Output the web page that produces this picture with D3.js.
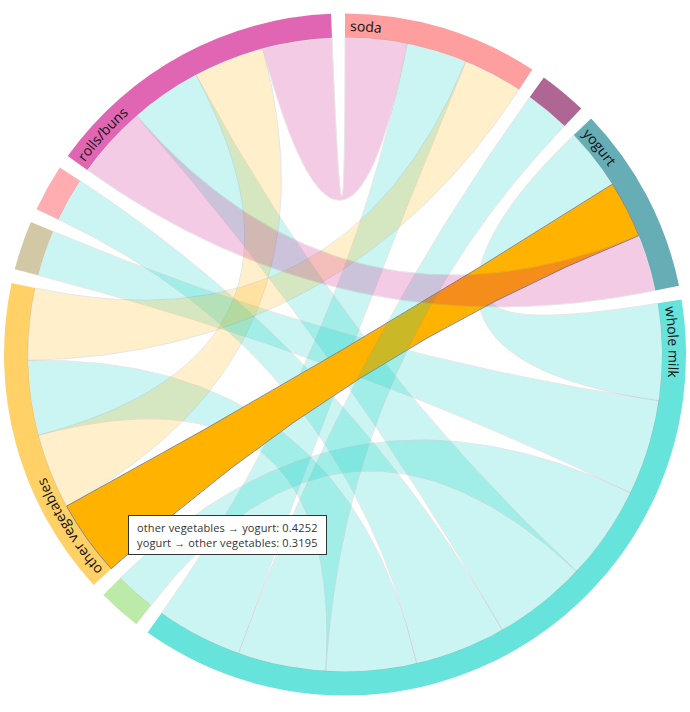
<!DOCTYPE html>
<html>
<head>
<meta charset="utf-8">
<script src="https://cdn.jsdelivr.net/npm/d3@7"></script>
<style>
  body { margin: 0; background: #fff; font-family: "Open Sans", "Noto Sans", sans-serif; }
  #chart { position: relative; width: 690px; height: 712px; }
  .tooltip {
    position: absolute; background: #fff; border: 1px solid #333;
    padding: 4px 8px; font-size: 11px; letter-spacing: 0.15px; line-height: 15px; color: #333;
    white-space: nowrap;
  }
  .group-label { font-size: 14px; fill: #111; }
</style>
</head>
<body>
<div id="chart"></div>
<script>
// products, clockwise from the top
const names = ["soda", "bottled water", "yogurt", "whole milk", "root vegetables",
               "other vegetables", "tropical fruit", "citrus fruit", "rolls/buns"];
const colors = ["#ff5d5d", "#7b004d", "#007684", "#00d0c3", "#8fdc6e",
                "#ffb200", "#b4a369", "#ff767b", "#cb0080"];

// one row per product: value from that product to each of the others
const sodaRow        = [0, 0, 0, 0.338, 0, 0.333, 0, 0, 0.346];
const waterRow       = [0, 0, 0, 0.250, 0, 0, 0, 0, 0];
const yogurtRow      = [0, 0, 0, 0.345, 0, 0.3195, 0, 0, 0.317];
const wholeMilkRow   = [0.481, 0.492, 0.540, 0, 0.527, 0.505, 0.533, 0.509, 0.524];
const rootVegRow     = [0, 0, 0, 0.227, 0, 0, 0, 0, 0];
const otherVegRow    = [0.402, 0, 0.4252, 0.418, 0, 0, 0, 0, 0.422];
const tropicalRow    = [0, 0, 0, 0.257, 0, 0, 0, 0, 0];
const citrusRow      = [0, 0, 0, 0.245, 0, 0, 0, 0, 0];
const rollsRow       = [0.388, 0, 0.405, 0.400, 0, 0.396, 0, 0, 0];

const matrix = [sodaRow, waterRow, yogurtRow, wholeMilkRow, rootVegRow,
                otherVegRow, tropicalRow, citrusRow, rollsRow];

// the chord the mouse is over in the picture
const hovered = ["other vegetables", "yogurt"];

const width = 690, height = 712;
const outerRadius = 341, innerRadius = 317, labelRadius = 323.5;

let svg = d3.select("#chart").append("svg")
    .attr("width", width)
    .attr("height", height);

let g = svg.append("g").attr("transform", "translate(345,354.5)");

// big chords first so the small ones stay visible on top
let chord = d3.chord()
    .padAngle(0.041)
    .sortSubgroups(d3.descending)
    .sortChords(d3.descending);

let chords = chord(matrix);

let arc = d3.arc().innerRadius(innerRadius).outerRadius(outerRadius);
let ribbon = d3.ribbon().radius(innerRadius);

let color = d3.scaleOrdinal().domain(d3.range(names.length)).range(colors);

// group arcs
let group = g.append("g").selectAll("g")
    .data(chords.groups)
    .join("g");

group.append("path")
    .attr("d", arc)
    .attr("fill", d => color(d.index))
    .attr("fill-opacity", 0.6);

// label paths along each arc, text hidden when it doesn't fit
group.append("path")
    .attr("id", d => "label-path-" + d.index)
    .attr("fill", "none")
    .attr("d", d => {
        let p = d3.path();
        p.arc(0, 0, labelRadius, d.startAngle - Math.PI / 2, d.endAngle - Math.PI / 2);
        return p.toString();
    });

group.append("text")
    .attr("class", "group-label")
    .append("textPath")
    .attr("href", d => "#label-path-" + d.index)
    .attr("startOffset", 5)
    .text(d => names[d.index]);

group.selectAll("text").filter(function(d) {
    let room = (d.endAngle - d.startAngle) * labelRadius;
    return this.getComputedTextLength() + 10 > room;
}).remove();

// ribbons
let isHovered = d => {
    let a = names[d.source.index], b = names[d.target.index];
    return (a == hovered[0] && b == hovered[1]) || (a == hovered[1] && b == hovered[0]);
};

g.append("g").selectAll("path")
    .data(chords)
    .join("path")
    .attr("d", ribbon)
    .attr("fill", d => color(d.source.index))
    .attr("stroke", "#888")
    .attr("stroke-width", 1)
    .attr("opacity", d => isHovered(d) ? 1 : 0.2);

// tooltip for the hovered chord
let hit = chords.find(isHovered);
let fmt = d3.format(".4f");
let s = hit.source.index, t = hit.target.index;

d3.select("#chart").append("div")
    .attr("class", "tooltip")
    .style("left", "128px")
    .style("top", "515px")
    .html(names[s] + " &rarr; " + names[t] + ": " + fmt(matrix[s][t]) + "<br>" +
          names[t] + " &rarr; " + names[s] + ": " + fmt(matrix[t][s]));
</script>
</body>
</html>
